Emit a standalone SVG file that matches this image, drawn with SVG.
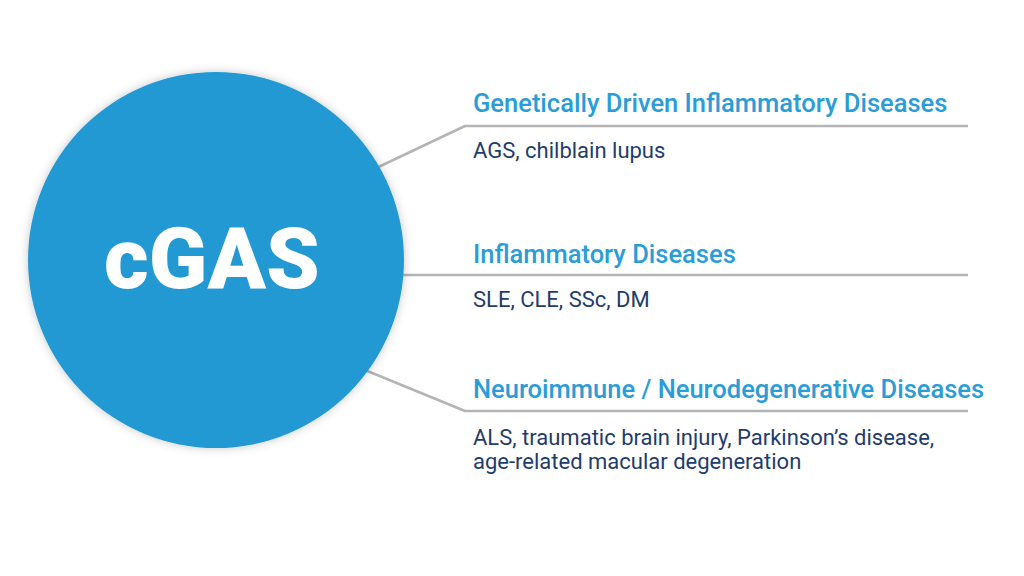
<svg xmlns="http://www.w3.org/2000/svg" width="1024" height="576" viewBox="0 0 1024 576">
<defs>
<filter id="sh" x="-20%" y="-20%" width="140%" height="140%">
<feDropShadow dx="0" dy="0" stdDeviation="5" flood-color="#000" flood-opacity="0.22"/>
</filter>
<style>
.conn{fill:none;stroke:#b4b4b4;stroke-width:2.5;stroke-linejoin:round}
.head{font-family:Roboto,"Liberation Sans",sans-serif;font-weight:500;font-size:25.5px;fill:#2a9dd8}
.sub{font-family:Roboto,"Liberation Sans",sans-serif;font-weight:400;font-size:22px;fill:#1f3c6b}
.hub{font-family:Roboto,"Liberation Sans",sans-serif;font-weight:900;font-size:86px;fill:#ffffff}
</style>
</defs>
<rect width="1024" height="576" fill="#ffffff"/>
<g id="connectors">
<polyline class="conn" points="370,171 465,126 968,126"/>
<polyline class="conn" points="400,275 968,275"/>
<polyline class="conn" points="360,368 465,411 968,411"/>
</g>
<g id="node-cgas">
<circle cx="216" cy="260" r="188" fill="#2399d3" filter="url(#sh)"/>
<text class="hub" x="212" y="288" text-anchor="middle">cGAS</text>
</g>
<g id="node-genetic">
<text class="head" x="473" y="112">Genetically Driven Inflammatory Diseases</text>
<text class="sub" x="473" y="158">AGS, chilblain lupus</text>
</g>
<g id="node-inflammatory">
<text class="head" x="473" y="263">Inflammatory Diseases</text>
<text class="sub" x="473" y="307">SLE, CLE, SSc, DM</text>
</g>
<g id="node-neuro">
<text class="head" x="473" y="398">Neuroimmune / Neurodegenerative Diseases</text>
<text class="sub" x="473" y="445">ALS, traumatic brain injury, Parkinson’s disease,</text>
<text class="sub" x="473" y="469">age-related macular degeneration</text>
</g>
</svg>
